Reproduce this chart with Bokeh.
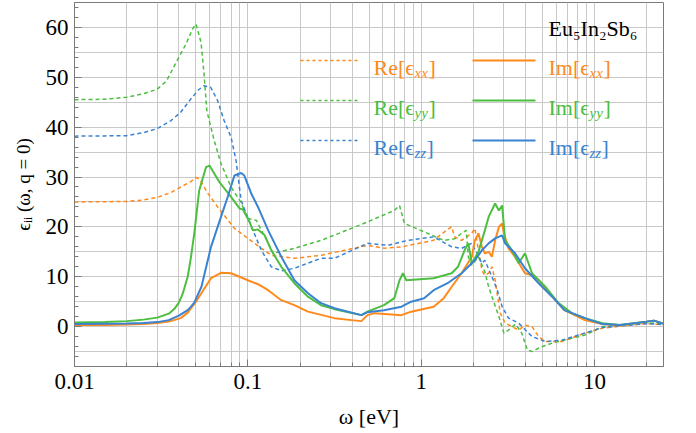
import math
from bokeh.plotting import figure
from bokeh.models import FixedTicker, Range1d, CustomJSTickFormatter
from bokeh.core.properties import value
from bokeh.embed import file_html
from bokeh.resources import INLINE

# ---------------- data ----------------
re_xx_x = [0.01, 0.015, 0.02, 0.025, 0.03, 0.036, 0.041, 0.047, 0.0502, 0.053, 0.058, 0.067, 0.0837,
           0.1, 0.1196, 0.1366, 0.1855, 0.2645, 0.49, 0.61, 0.77, 1.18, 1.42, 1.50, 1.56, 1.71, 1.96,
           2.04, 2.24, 2.33, 2.45, 2.56, 2.67, 2.86, 3.05, 3.65, 3.97, 4.36, 4.76, 5.2, 6.5, 8.8,
           11.1, 15, 20, 25]
re_xx_y = [25, 25.05, 25.1, 25.4, 25.9, 26.9, 28, 29.1, 29.9, 29.5, 27, 24, 19.7,
           17.7, 15.7, 14.3, 13.7, 14.3, 16.3, 15.7, 16, 17.3, 19.5, 20, 18, 17.3, 18.7,
           19.7, 11.3, 10.3, 10.7, 12, 9.3, 2.7, 0.7, -0.7, 0.3, 0, -2, -3, -3, -1.3,
           -0.3, 0.2, 0.6, 0.4]

re_yy_x = [0.01, 0.015, 0.02, 0.025, 0.03, 0.034, 0.039, 0.044, 0.048, 0.0502, 0.0537, 0.0558,
           0.058, 0.064, 0.07, 0.08, 0.091, 0.1, 0.112, 0.131, 0.14, 0.1855, 0.2645, 0.396, 0.49,
           0.70, 0.75, 0.80, 1.09, 1.35, 1.56, 1.71, 1.82, 1.87, 1.96, 2.14, 2.33, 2.45, 2.56,
           2.81, 3.0, 3.19, 3.5, 3.8, 4.1, 4.36, 4.76, 5.0, 5.7, 8.8, 11.1, 15, 20, 25]
re_yy_y = [45.5, 45.6, 46, 46.7, 47.6, 49.3, 53.3, 56.7, 59.7, 60.7, 57, 51,
           43.3, 37.3, 32.7, 28, 25, 21.7, 21.3, 16.7, 14.7, 15.7, 17.3, 19.7, 21,
           23.3, 24.3, 20.7, 18.7, 17.3, 17.6, 18.7, 19.3, 14, 12.3, 14, 11, 8, 6,
           2, -1.3, -0.7, 0.5, -1.3, -4.7, -5, -4.3, -4, -3.3, -1.7, 0, 0.3, 0.8, 0.5]

re_zz_x = [0.01, 0.015, 0.02, 0.025, 0.03, 0.036, 0.041, 0.047, 0.052, 0.0558, 0.061, 0.067,
           0.073, 0.08, 0.0855, 0.0915, 0.1022, 0.1196, 0.1366, 0.156, 0.1855, 0.2645, 0.316,
           0.49, 0.64, 0.84, 1.18, 1.50, 1.71, 1.96, 2.24, 2.33, 2.56, 2.75, 2.93, 3.19, 3.65,
           4.36, 5.2, 6.5, 8.8, 11.1, 15, 20, 25]
re_zz_y = [38.2, 38.25, 38.3, 38.9, 39.7, 41.3, 43, 45.7, 47.5, 48.3, 48, 45.3,
           41.3, 38, 33.3, 25.3, 21, 15.3, 12, 11.2, 11.7, 13.7, 13.7,
           16.7, 16.3, 17.3, 18, 16, 15.7, 16.7, 12.7, 13.3, 10, 7.3, 4, 1.7, 0.7,
           -2, -3, -2.7, -1.3, -0.2, 0.2, 0.6, 0.4]

im_xx_x = [0.01, 0.015, 0.02, 0.025, 0.03, 0.035, 0.041, 0.045, 0.0502, 0.0558, 0.0613, 0.07,
           0.08, 0.0895, 0.1, 0.1144, 0.131, 0.156, 0.1855, 0.2223, 0.316, 0.396, 0.452, 0.49,
           0.54, 0.77, 0.875, 1.18, 1.35, 1.50, 1.71, 1.96, 2.04, 2.14, 2.24, 2.33, 2.45, 2.56,
           2.67, 2.81, 2.93, 3.0, 3.19, 3.48, 3.97, 4.36, 4.76, 5.7, 6.7, 8.8, 11.1, 14, 20, 22, 25]
im_xx_y = [0.3, 0.33, 0.4, 0.5, 0.7, 1.0, 1.7, 2.8, 5, 7.5, 9.7, 10.8,
           10.7, 10, 9.3, 8.5, 7.3, 5.3, 4.3, 3, 1.7, 1.3, 1.1, 2.3,
           2.7, 2.3, 3, 4, 5.7, 8, 10.7, 14, 17.3, 18.7, 16, 14.7, 15, 14,
           17.3, 20, 20.7, 18.7, 15.7, 14, 10.7, 10.3, 9.3, 6, 3.3, 1.3, 0.5, 0.2, 1, 1.2, 0.6]

im_yy_x = [0.01, 0.015, 0.02, 0.025, 0.03, 0.035, 0.038, 0.04, 0.042, 0.045, 0.047, 0.0491,
           0.0524, 0.0574, 0.0601, 0.0685, 0.08, 0.0895, 0.0937, 0.1022, 0.107, 0.1144, 0.1252,
           0.1366, 0.156, 0.1855, 0.2223, 0.2645, 0.316, 0.452, 0.49, 0.61, 0.70, 0.75, 0.785,
           0.82, 1.18, 1.50, 1.63, 1.78, 1.87, 1.96, 2.14, 2.33, 2.45, 2.67, 2.81, 2.93, 3.05,
           3.34, 3.65, 3.97, 4.36, 5.2, 6.2, 7.4, 8.8, 11.1, 14, 20, 22, 25]
im_yy_y = [0.8, 0.9, 1.1, 1.4, 1.8, 2.6, 3.7, 4.8, 6.5, 10, 14, 18.7,
           27.3, 32, 32.3, 29, 26, 23.7, 23.5, 21, 19.3, 19.5, 18.3,
           15.3, 12, 8.7, 6, 4.3, 3.5, 2.3, 3, 4.3, 5.7, 9.3, 10.7,
           9.3, 9.7, 10.7, 12, 15.3, 16.7, 12.7, 15, 19.3, 22, 24.7, 23.3, 24.3, 17.3,
           15.3, 12.7, 14.7, 10.7, 8, 4.7, 2.7, 1.7, 0.7, 0.3, 1, 1.2, 0.6]

im_zz_x = [0.01, 0.015, 0.02, 0.025, 0.03, 0.035, 0.04, 0.045, 0.047, 0.0491, 0.054, 0.0613,
           0.07, 0.0765, 0.0837, 0.0915, 0.0954, 0.1046, 0.1144, 0.131, 0.156, 0.1855, 0.2223,
           0.2645, 0.316, 0.452, 0.49, 0.61, 0.77, 0.875, 1.04, 1.18, 1.42, 1.71, 2.04, 2.24,
           2.45, 2.67, 2.93, 3.05, 3.48, 3.97, 4.76, 5.7, 6.7, 8.8, 11.1, 14, 20, 22, 25]
im_zz_y = [0.5, 0.55, 0.6, 0.7, 0.9, 1.3, 2.2, 3.3, 4, 4.8, 8, 16,
           22, 26, 30.3, 30.8, 30.3, 26.7, 24, 19.3, 14, 9.3, 6.7,
           4.7, 3.7, 2.3, 2.9, 3.3, 4, 5, 5.7, 7.3, 8.7, 10.7, 13.3, 15.3,
           16.7, 17.7, 18.3, 16.7, 14.7, 11.7, 8.7, 6, 3.3, 1.7, 0.5, 0.3, 1, 1.2, 0.6]

x_major_ticks = [0.01, 0.1, 1, 10]
y_major_ticks = [0, 10, 20, 30, 40, 50, 60]

components = ["xx", "yy", "zz"]
title_text = "Eu₅In₂Sb₆"
x_title = "ω [eV]"
y_title = "ϵᵢᵢ (ω, q = 0)"

# ---------------- styling / layout ----------------
ORANGE = "#FF8A1C"
GREEN = "#4CBE40"
BLUE = "#3A82D2"
colors = [ORANGE, GREEN, BLUE]
SERIF = "Liberation Serif"

X_MIN, X_MAX = 0.01, 25
Y_MIN, Y_MAX = -8, 65
W, H = 696, 433
BL, BR, BT, BB = 74, 33, 2, 67
FW = W - BL - BR
FH = H - BT - BB


def fx(px):
    return 10 ** (math.log10(X_MIN) + (px - BL) / FW * math.log10(X_MAX / X_MIN))


def fy(py):
    return Y_MAX - (py - BT) / FH * (Y_MAX - Y_MIN)


p = figure(width=W, height=H, x_axis_type="log",
           x_range=Range1d(X_MIN, X_MAX), y_range=Range1d(Y_MIN, Y_MAX),
           output_backend="svg", toolbar_location=None,
           min_border_left=BL, min_border_right=BR, min_border_top=BT, min_border_bottom=BB)

p.background_fill_color = "white"
p.outline_line_color = "#7a7a7a"
p.outline_line_width = 1

minor_x = [m * 10 ** e for e in range(-2, 2) for m in range(2, 10)]
p.xaxis.ticker = FixedTicker(ticks=x_major_ticks, minor_ticks=minor_x)
p.xaxis.formatter = CustomJSTickFormatter(code="return String(tick);")
p.yaxis.ticker = FixedTicker(ticks=y_major_ticks,
                             minor_ticks=[v for v in range(-8, 66, 2) if v % 10 != 0])
p.ygrid.ticker = FixedTicker(ticks=list(range(-5, 66, 5)))

grid_col = "#c9c9c9"
p.xgrid.grid_line_color = grid_col
p.xgrid.minor_grid_line_color = grid_col
p.ygrid.grid_line_color = grid_col

xa = p.xaxis[0]
ya = p.yaxis[0]
for ax in (xa, ya):
    ax.axis_line_color = "#7a7a7a"
    ax.major_tick_line_color = "#7a7a7a"
    ax.minor_tick_line_color = "#7a7a7a"
    ax.major_tick_in = 7
    ax.major_tick_out = 0
    ax.minor_tick_in = 4
    ax.minor_tick_out = 0
    ax.major_label_text_color = "black"
    ax.major_label_text_font = SERIF
    ax.major_label_text_font_size = "23px"
    ax.axis_label_text_color = "black"
    ax.axis_label_text_font = SERIF
    ax.axis_label_text_font_style = "normal"

xa.major_label_standoff = 7
ya.major_label_standoff = 6

xa.axis_label = x_title
xa.axis_label_text_font_size = "22px"
xa.axis_label_standoff = 12
ya.axis_label = y_title
ya.axis_label_text_font_size = "19px"
ya.axis_label_standoff = 9

# ---------------- curves ----------------
re_x = [re_xx_x, re_yy_x, re_zz_x]
re_y = [re_xx_y, re_yy_y, re_zz_y]
im_x = [im_xx_x, im_yy_x, im_zz_x]
im_y = [im_xx_y, im_yy_y, im_zz_y]

for xs, ys, c in zip(re_x, re_y, colors):
    p.line(xs, ys, line_color=c, line_width=1.5, line_dash="4 3")
for xs, ys, c in zip(im_x, im_y, colors):
    p.line(xs, ys, line_color=c, line_width=2)

# ---------------- legend (drawn by hand) ----------------
rows_py = [60, 100, 140]
MAIN = "22px"
SUB = "15px"


def label(px, py, prefix, sub, color):
    p.text(x=[fx(px)], y=[fy(py)], text=[prefix + "ϵ"], text_color=color,
           text_font=value(SERIF), text_font_size=MAIN,
           text_align="left", text_baseline="alphabetic")
    w0 = 41
    p.text(x=[fx(px + w0)], y=[fy(py + 5)], text=[sub], text_color=color,
           text_font=value(SERIF), text_font_size=SUB, text_font_style="italic",
           text_align="left", text_baseline="alphabetic")
    w1 = 14 if sub != "zz" else 12
    p.text(x=[fx(px + w0 + w1)], y=[fy(py)], text=["]"], text_color=color,
           text_font=value(SERIF), text_font_size=MAIN,
           text_align="left", text_baseline="alphabetic")


for comp, c, py in zip(components, colors, rows_py):
    p.line([fx(300), fx(360)], [fy(py), fy(py)], line_color=c, line_width=1.5, line_dash="3 3")
    label(373, py + 7, "Re[", comp, c)
    p.line([fx(472), fx(535)], [fy(py), fy(py)], line_color=c, line_width=2)
    label(548, py + 7, "Im[", comp, c)

p.text(x=[fx(548)], y=[fy(28)], text=[title_text], text_color="black",
       text_font=value(SERIF), text_font_size=MAIN,
       text_align="left", text_baseline="alphabetic")

open("out.html", "w").write(file_html(p, INLINE))
